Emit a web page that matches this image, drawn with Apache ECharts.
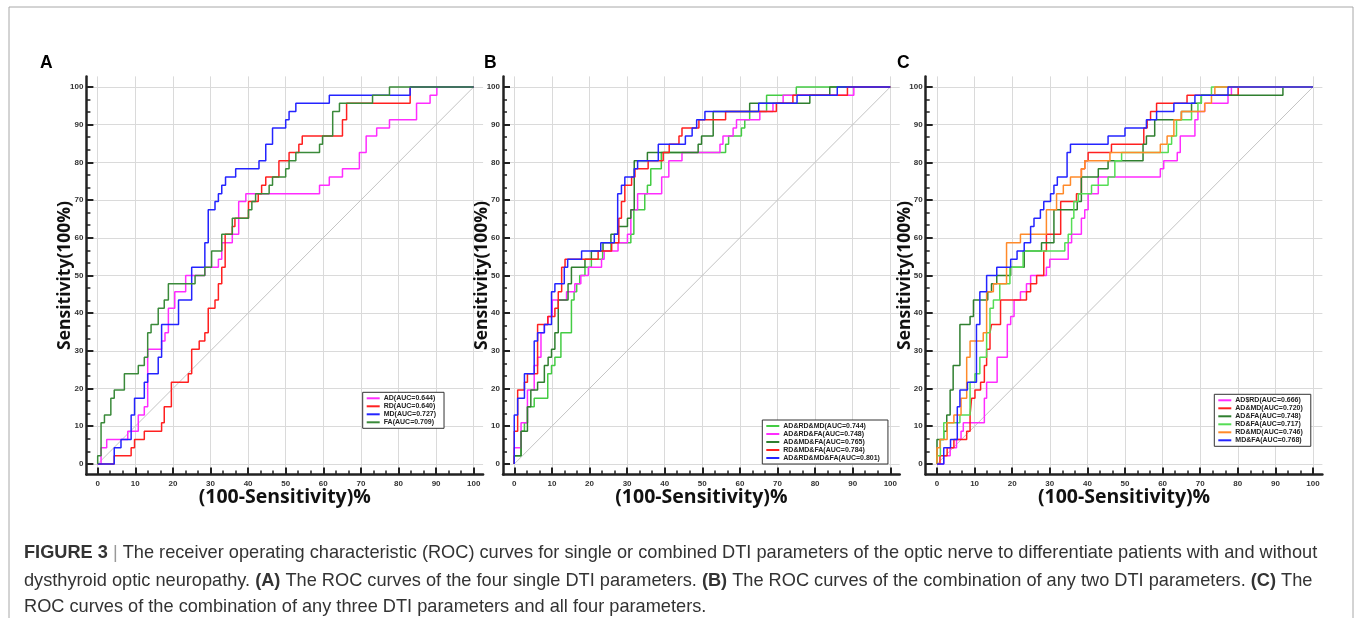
<!DOCTYPE html>
<html>
<head>
<meta charset="utf-8">
<title>ROC curves of DTI parameters</title>
<script src="https://cdn.jsdelivr.net/npm/echarts@6/dist/echarts.min.js"></script>
<style>
  html, body { margin: 0; padding: 0; background: #fff; }
  #chart { width: 1355px; height: 618px; }
</style>
</head>
<body>
<div id="chart"></div>
<script>
// 刻度
var tickValues = [0, 10, 20, 30, 40, 50, 60, 70, 80, 90, 100];
var minorValues = [];
for (var i = 1; i < 30; i++) {
  if (i % 3 !== 0) minorValues.push(i * 10 / 3);
}
// 对角参考线
var diagLine = [[0, 0], [100, 100]];

// A: 单参数  [x(100-Sensitivity), y(Sensitivity)] 每个台阶的顶点
var aNames = ["AD(AUC=0.644)", "RD(AUC=0.640)", "MD(AUC=0.727)", "FA(AUC=0.709)"];
var aColors = ["#ff2cff", "#ff2020", "#2424ff", "#3a8a3a"];
var aAD = [[0,0],[0.9,4.3],[2.4,6.5],[8.0,8.7],[10.8,13.0],[12.4,15.2],[13.3,30.4],[17.0,32.6],[17.9,34.8],[18.8,41.3],[20.5,45.7],[23.4,50.0],[28.5,52.2],[32.1,54.3],[33.0,58.7],[35.8,60.9],[37.5,69.6],[39.4,71.7],[59.0,73.9],[61.6,76.1],[65.1,78.3],[69.6,82.6],[71.4,87.0],[74.2,89.1],[77.6,91.3],[84.8,95.7],[88.4,97.8],[90.2,100],[100,100]];
var aRD = [[0,0],[4.4,2.2],[8.9,4.3],[9.8,6.5],[12.4,8.7],[17.0,10.9],[17.7,15.2],[19.6,21.7],[24.1,23.9],[25.0,30.4],[27.0,32.6],[28.5,34.8],[29.4,41.3],[31.2,43.5],[32.1,47.8],[33.0,52.2],[33.9,60.9],[35.8,63.0],[36.5,65.2],[40.1,69.6],[42.7,71.7],[43.6,73.9],[44.7,76.1],[48.2,80.4],[50.9,82.6],[53.5,84.8],[54.4,87.0],[65.1,91.3],[66.2,95.7],[83.1,100],[100,100]];
var aMD = [[0,0],[4.4,4.3],[6.2,6.5],[8.9,13.0],[9.8,17.4],[12.4,21.7],[13.3,23.9],[16.1,28.3],[17.0,37.0],[21.5,43.5],[25.0,52.2],[28.5,58.7],[29.4,67.4],[31.2,69.6],[32.1,71.7],[33.0,73.9],[34.0,76.1],[36.7,78.3],[42.9,80.4],[44.7,84.8],[46.5,89.1],[50.0,91.3],[50.9,93.5],[52.7,95.7],[61.6,97.8],[83.1,100],[100,100]];
var aFA = [[0,0],[0,2.2],[0.9,10.9],[1.8,13.0],[3.5,17.4],[4.4,19.6],[7.1,23.9],[10.8,26.1],[12.4,28.3],[13.3,34.8],[14.2,37.0],[16.1,41.3],[17.7,43.5],[18.8,47.8],[25.9,50.0],[28.5,52.2],[30.3,56.5],[33.0,60.9],[35.8,65.2],[40.1,67.4],[41.0,69.6],[42.0,71.7],[45.6,73.9],[46.5,76.1],[50.0,78.3],[50.9,80.4],[52.7,82.6],[59.0,84.8],[59.8,87.0],[62.5,93.5],[64.3,95.7],[73.1,97.8],[77.6,100],[100,100]];

// B: 三参数及四参数
var bNames = ["AD&RD&MD(AUC=0.744)", "AD&RD&FA(AUC=0.748)", "AD&MD&FA(AUC=0.765)", "RD&MD&FA(AUC=0.784)", "AD&RD&MD&FA(AUC=0.801)"];
var bColors = ["#44cc44", "#ff2cff", "#2f7f2f", "#ff2020", "#2424ff"];
var bARM = [[0,0],[0,2.2],[1.8,8.7],[2.7,10.9],[3.5,15.2],[5.3,17.4],[8.9,23.9],[9.9,26.1],[10.8,28.3],[12.4,34.8],[15.2,43.5],[15.9,45.7],[16.6,47.8],[17.4,50.0],[18.8,52.2],[20.5,54.3],[23.5,56.5],[25.7,58.7],[31.0,60.9],[31.8,67.4],[34.7,71.7],[35.4,73.9],[36.3,78.3],[39.1,82.6],[56.2,84.8],[57.0,87.0],[60.4,89.1],[61.3,91.3],[62.6,93.5],[67.1,97.8],[75.0,100],[100,100]];
var bARF = [[0,0],[0,4.3],[1.8,10.9],[3.5,19.6],[5.3,26.1],[6.2,28.3],[7.1,34.8],[8.0,37.0],[9.0,39.1],[10.1,43.5],[13.9,45.7],[16.1,47.8],[17.7,50.0],[19.7,52.2],[23.2,54.3],[23.9,56.5],[27.6,58.7],[30.1,60.9],[31.0,67.4],[32.8,71.7],[39.2,76.1],[41.1,80.4],[44.6,82.6],[54.7,84.8],[55.5,87.0],[58.2,89.1],[59.1,91.3],[65.3,93.5],[68.8,95.7],[71.5,97.8],[90.3,100],[100,100]];
var bAMF = [[0,0],[0,2.2],[1.8,8.7],[3.5,15.2],[4.4,19.6],[6.2,21.7],[8.0,26.1],[9.0,28.3],[9.9,30.4],[10.8,34.8],[11.7,43.5],[14.3,47.8],[15.2,52.2],[18.8,54.3],[20.5,56.5],[23.6,58.7],[25.7,60.9],[27.6,63.0],[30.1,65.2],[31.0,67.4],[31.9,80.4],[35.4,82.6],[48.9,84.8],[49.8,87.0],[52.9,93.5],[62.6,95.7],[78.6,97.8],[83.9,100],[100,100]];
var bRMF = [[0,0],[0,8.7],[0.9,19.6],[2.7,21.7],[3.5,23.9],[6.2,37.0],[8.9,39.1],[10.8,41.3],[11.7,45.7],[12.6,52.2],[13.5,54.3],[22.3,56.5],[25.9,58.7],[27.8,65.2],[28.5,69.6],[29.4,73.9],[31.2,76.1],[32.1,78.3],[35.6,80.4],[39.6,82.6],[41.2,84.8],[43.8,87.0],[44.6,89.1],[49.1,91.3],[56.2,93.5],[69.7,95.7],[74.1,97.8],[88.6,100],[100,100]];
var bAll = [[0,0],[0,13.0],[0.9,17.4],[2.7,23.9],[5.3,32.6],[6.2,34.8],[8.0,37.0],[9.9,45.7],[10.8,47.8],[13.3,52.2],[14.2,54.3],[17.9,56.5],[23.0,58.7],[26.6,60.9],[27.5,71.7],[28.5,73.9],[29.4,76.1],[31.9,78.3],[32.8,80.4],[38.3,84.8],[45.5,87.0],[47.3,89.1],[48.5,91.3],[50.7,93.5],[65.0,95.7],[75.2,97.8],[85.9,100],[100,100]];

// C: 两参数组合
var cNames = ["AD$RD(AUC=0.666)", "AD&MD(AUC=0.720)", "AD&FA(AUC=0.748)", "RD&FA(AUC=0.717)", "RD&MD(AUC=0.746)", "MD&FA(AUC=0.768)"];
var cColors = ["#ff2cff", "#ff2020", "#2f7f2f", "#55dd55", "#ff8a2a", "#2424ff"];
var cAR = [[0,0],[1.8,2.2],[3.5,4.3],[5.2,6.5],[6.4,8.7],[7.0,10.9],[12.6,17.4],[13.2,21.7],[16.0,28.3],[18.7,37.0],[19.6,39.1],[20.5,43.5],[22.2,45.7],[23.8,47.8],[24.9,50.0],[29.1,52.2],[30.0,54.3],[34.9,58.7],[35.8,60.9],[38.4,65.2],[39.3,67.4],[40.2,71.7],[42.9,76.1],[59.4,78.3],[60.3,80.4],[63.9,82.6],[64.7,87.0],[68.6,91.3],[69.4,93.5],[71.2,95.7],[77.4,97.8],[78.3,100],[100,100]];
var cAM = [[0,0],[0.8,2.2],[2.7,4.3],[4.5,6.5],[7.9,8.7],[8.8,13.0],[9.2,17.4],[10.1,19.6],[11.6,21.7],[12.6,26.1],[13.2,30.4],[14.1,34.8],[14.5,37.0],[16.9,43.5],[23.8,45.7],[24.9,47.8],[26.5,50.0],[28.4,56.5],[29.1,60.9],[32.9,69.6],[37.1,71.7],[38.4,78.3],[39.3,80.4],[40.2,82.6],[46.4,84.8],[55.0,89.1],[55.9,91.3],[56.8,93.5],[58.4,95.7],[66.5,97.8],[80.1,100],[100,100]];
var cAF = [[0,0],[0,6.5],[1.8,8.7],[2.6,13.0],[3.5,19.6],[4.3,26.1],[6.1,37.0],[8.8,39.1],[9.7,43.5],[13.5,45.7],[14.5,47.8],[15.9,50.0],[19.6,52.2],[23.2,56.5],[27.8,58.7],[31.1,67.4],[37.3,69.6],[38.4,76.1],[42.9,78.3],[45.5,80.4],[54.8,84.8],[55.7,87.0],[57.9,91.3],[65.0,93.5],[67.7,95.7],[70.3,97.8],[92.0,100],[100,100]];
var cRF = [[0,0],[0,2.2],[0.9,6.5],[1.8,10.9],[6.1,13.0],[8.8,21.7],[10.1,23.9],[11.4,28.3],[13.2,34.8],[14.1,41.3],[15.0,43.5],[16.7,47.8],[19.4,52.2],[22.9,56.5],[34.0,58.7],[34.9,60.9],[35.8,65.2],[36.4,69.6],[37.6,71.7],[41.1,73.9],[45.5,76.1],[47.3,80.4],[49.1,82.6],[61.5,84.8],[62.4,87.0],[63.7,91.3],[67.7,93.5],[69.4,95.7],[70.3,97.8],[73.0,100],[100,100]];
var cRM = [[0,0],[0,4.3],[0.8,6.5],[2.7,10.9],[4.5,13.0],[6.4,17.4],[7.9,28.3],[8.8,32.6],[12.3,34.8],[13.2,45.7],[15.0,47.8],[18.5,58.7],[22.2,60.9],[29.1,67.4],[31.8,71.7],[33.6,73.9],[35.5,76.1],[38.4,78.3],[39.3,80.4],[46.0,82.6],[59.4,84.8],[61.2,87.0],[63.0,91.3],[65.0,93.5],[71.2,95.7],[73.0,97.8],[73.9,100],[100,100]];
var cMF = [[0,0],[1.8,4.3],[3.6,6.5],[5.4,15.2],[6.1,19.6],[8.1,21.7],[10.5,37.0],[11.4,45.7],[13.2,50.0],[15.9,52.2],[19.6,54.3],[21.3,56.5],[23.2,58.7],[24.9,63.0],[25.8,65.2],[27.5,67.4],[28.4,69.6],[30.2,71.7],[31.1,73.9],[32.0,76.1],[34.6,82.6],[35.5,84.8],[45.5,87.0],[50.0,89.1],[55.7,91.3],[58.4,93.5],[63.0,95.7],[68.6,97.8],[77.4,100],[100,100]];

var panels = [
  { letter: "A", names: aNames, colors: aColors, curves: [aAD, aRD, aMD, aFA] },
  { letter: "B", names: bNames, colors: bColors, curves: [bARM, bARF, bAMF, bRMF, bAll] },
  { letter: "C", names: cNames, colors: cColors, curves: [cAR, cAM, cAF, cRF, cRM, cMF] }
];

// 台阶顶点 -> 折线 (先水平再竖直)
function stairs(pts) {
  var out = [pts[0]];
  for (var k = 1; k < pts.length; k++) {
    out.push([pts[k][0], pts[k - 1][1]]);
    out.push(pts[k]);
  }
  return out;
}

var FONT = "Liberation Sans, Arial, sans-serif";
var gridLeft = [86.4, 503.0, 925.7];
var legendPos = [[362.7, 392.3], [762.3, 420], [1214.3, 394.3]];
var letterX = [40, 484, 897];

var chart = echarts.init(document.getElementById("chart"));
var option = {
  backgroundColor: "#fff",
  animation: false,
  grid: [],
  xAxis: [],
  yAxis: [],
  legend: [],
  series: [],
  graphic: []
};

panels.forEach(function (p, g) {
  option.grid.push({ left: gridLeft[g], top: 76.4, width: 396.7, height: 398.1 });
  // 主刻度 x
  option.xAxis.push({
    gridIndex: g, type: "value", min: -3, max: 102.5, position: "bottom",
    name: "(100-Sensitivity)%", nameLocation: "middle", nameGap: 12.5, nameMoveOverlap: false,
    nameTextStyle: { fontFamily: "Open Sans", fontWeight: "bold", fontSize: 19.5, color: "#111" },
    axisLine: { onZero: false, lineStyle: { color: "#222", width: 2.5 } },
    axisTick: { inside: true, length: 7, customValues: tickValues, lineStyle: { color: "#222", width: 2 } },
    axisLabel: { customValues: tickValues, margin: 5, fontSize: 8, fontWeight: "bold", color: "#333", fontFamily: FONT },
    splitLine: { show: true, lineStyle: { color: "#dadada", width: 1 } }
  });
  // 次刻度 x
  option.xAxis.push({
    gridIndex: g, type: "value", min: -3, max: 102.5, position: "bottom",
    axisLine: { show: false, onZero: false },
    axisTick: { inside: true, length: 4, customValues: minorValues, lineStyle: { color: "#222", width: 1.5 } },
    axisLabel: { show: false },
    splitLine: { show: false }
  });
  option.yAxis.push({
    gridIndex: g, type: "value", min: -2.8, max: 102.8, position: "left",
    name: "Sensitivity(100%)", nameLocation: "middle", nameGap: 12, nameMoveOverlap: false,
    nameTextStyle: { fontFamily: "Open Sans", fontWeight: "bold", fontSize: 17.5, color: "#111" },
    axisLine: { onZero: false, lineStyle: { color: "#222", width: 2.5 } },
    axisTick: { inside: true, length: 7, customValues: tickValues, lineStyle: { color: "#222", width: 2 } },
    axisLabel: { customValues: tickValues, margin: 3, fontSize: 8, fontWeight: "bold", color: "#333", fontFamily: FONT },
    splitLine: { show: true, lineStyle: { color: "#dadada", width: 1 } }
  });
  option.yAxis.push({
    gridIndex: g, type: "value", min: -2.8, max: 102.8, position: "left",
    axisLine: { show: false, onZero: false },
    axisTick: { inside: true, length: 4, customValues: minorValues, lineStyle: { color: "#222", width: 1.5 } },
    axisLabel: { show: false },
    splitLine: { show: false }
  });

  option.series.push({
    name: "diag" + g, type: "line", xAxisIndex: 2 * g, yAxisIndex: 2 * g,
    data: diagLine, symbol: "none", silent: true,
    lineStyle: { color: "#c4c4c4", width: 1 }
  });
  p.curves.forEach(function (c, k) {
    option.series.push({
      name: p.names[k], type: "line", xAxisIndex: 2 * g, yAxisIndex: 2 * g,
      data: stairs(c), symbol: "none", showSymbol: false,
      color: p.colors[k],
      lineStyle: { color: p.colors[k], width: 1.5 }
    });
  });

  option.legend.push({
    data: p.names, orient: "vertical", left: legendPos[g][0], top: legendPos[g][1],
    selectedMode: false, icon: "rect", itemWidth: 13, itemHeight: 2, itemGap: 0,
    padding: [2, 8, 2, 4], borderColor: "#333", borderWidth: 1, backgroundColor: "#fff",
    textStyle: { fontSize: 7, fontWeight: "bold", color: "#222", fontFamily: FONT, lineHeight: 8, padding: [0, 0, 0, -1] }
  });

  option.graphic.push({
    type: "text", x: letterX[g], y: 63.5, silent: true,
    style: { text: p.letter, font: "bold 17.5px " + FONT, fill: "#000", verticalAlign: "middle" }
  });
});

// 外框
option.graphic.push({
  type: "rect", silent: true, z: -1,
  shape: { x: 9, y: 7, width: 1344, height: 700 },
  style: { fill: "none", stroke: "#a8a8a8", lineWidth: 1 }
});

// 图注
var capRich = {
  b: { fontWeight: "bold", fontFamily: FONT, fontSize: 18.2, fill: "#333" },
  s: { fontFamily: FONT, fontSize: 18.2, fill: "#999" }
};
var capLines = [
  "{b|FIGURE 3} {s||} The receiver operating characteristic (ROC) curves for single or combined DTI parameters of the optic nerve to differentiate patients with and without",
  "dysthyroid optic neuropathy. {b|(A)} The ROC curves of the four single DTI parameters. {b|(B)} The ROC curves of the combination of any two DTI parameters. {b|(C)} The",
  "ROC curves of the combination of any three DTI parameters and all four parameters."
];
var capY = [553, 580.5, 606.5];
capLines.forEach(function (t, k) {
  option.graphic.push({
    type: "text", x: 24, y: capY[k], silent: true,
    style: { text: t, rich: capRich, font: "18.2px " + FONT, fill: "#333", verticalAlign: "middle" }
  });
});

chart.setOption(option);
</script>
</body>
</html>
